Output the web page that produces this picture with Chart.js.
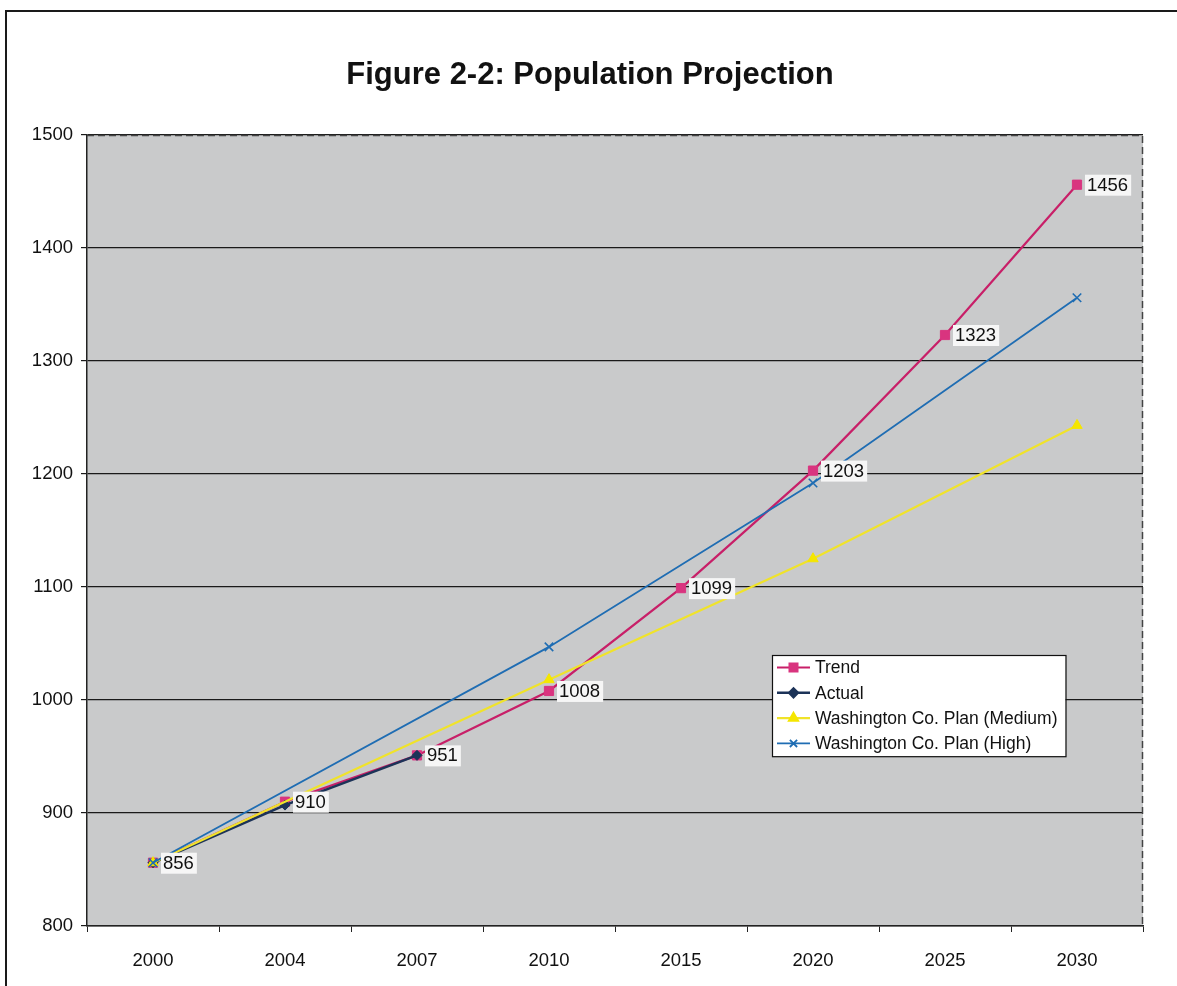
<!DOCTYPE html>
<html>
<head>
<meta charset="utf-8">
<title>Population Projection</title>
<script src="https://cdn.jsdelivr.net/npm/chart.js@4.4.0/dist/chart.umd.min.js"></script>
<style>
  html, body { margin: 0; padding: 0; background: #fff; }
  #wrap { width: 1177px; height: 986px; }
</style>
</head>
<body>
<div id="wrap"><canvas id="popChart" width="1177" height="986"></canvas></div>
<script>
// Years on the x-axis (evenly spaced categories)
const years = ["2000", "2004", "2007", "2010", "2015", "2020", "2025", "2030"];

// Population series, null where a series has no value for that year
const trend = [856, 910, 951, 1008, 1099, 1203, 1323, 1456];
const actual = [856, 907, 951, null, null, null, null, null];
const planMedium = [856, null, null, 1018, null, 1125, null, 1243];
const planHigh = [856, null, null, 1047, null, 1192, null, 1356];

const seriesNames = ["Trend", "Actual", "Washington Co. Plan (Medium)", "Washington Co. Plan (High)"];
const chartTitle = "Figure 2-2: Population Projection";

const FONT = "'Liberation Sans', Arial, Helvetica, sans-serif";

// Page frame, title and grey plot background, drawn under everything
const backdrop = {
    id: "backdrop",
    beforeDraw(chart) {
        const ctx = chart.ctx;
        const ca = chart.chartArea;
        ctx.save();
        ctx.fillStyle = "#ffffff";
        ctx.fillRect(0, 0, chart.width, chart.height);
        ctx.strokeStyle = "#1a1a1a";
        ctx.lineWidth = 2;
        ctx.beginPath();
        ctx.moveTo(6, chart.height);
        ctx.lineTo(6, 11);
        ctx.lineTo(chart.width, 11);
        ctx.stroke();
        // title sits centred over the page frame, not the plot
        ctx.fillStyle = "#111";
        ctx.font = "bold 31px " + FONT;
        ctx.textAlign = "center";
        ctx.textBaseline = "middle";
        ctx.fillText(chartTitle, 590, 75);
        ctx.fillStyle = "#c9cacb";
        ctx.fillRect(ca.left, ca.top, ca.right - ca.left, ca.bottom - ca.top);
        ctx.restore();
    },
    afterDraw(chart) {
        // dashed top and right edges of the plot area
        const ctx = chart.ctx;
        const ca = chart.chartArea;
        ctx.save();
        ctx.strokeStyle = "#444";
        ctx.lineWidth = 1.5;
        ctx.setLineDash([7, 4]);
        ctx.beginPath();
        ctx.moveTo(ca.left, ca.top + 0.5);
        ctx.lineTo(ca.right - 0.5, ca.top + 0.5);
        ctx.lineTo(ca.right - 0.5, ca.bottom);
        ctx.stroke();
        ctx.restore();
    }
};

// Value labels next to each Trend point
const trendLabels = {
    id: "trendLabels",
    afterDatasetsDraw(chart) {
        const ctx = chart.ctx;
        const meta = chart.getDatasetMeta(0);
        ctx.save();
        ctx.font = "18.5px " + FONT;
        ctx.textBaseline = "middle";
        meta.data.forEach((pt, i) => {
            const v = chart.data.datasets[0].data[i];
            if (v == null) return;
            const txt = String(v);
            const w = ctx.measureText(txt).width;
            ctx.fillStyle = "#f6f6f6";
            ctx.fillRect(pt.x + 8, pt.y - 10, w + 5, 21);
            ctx.fillStyle = "#111";
            ctx.fillText(txt, pt.x + 10, pt.y + 1);
        });
        ctx.restore();
    }
};

// Boxed legend inside the plot, line sample with its marker
const boxLegend = {
    id: "boxLegend",
    afterDraw(chart) {
        const ctx = chart.ctx;
        const ca = chart.chartArea;
        const left = ca.left + 685;
        const top = ca.top + 520;
        const rowH = 25.3;
        ctx.save();
        ctx.font = "17.5px " + FONT;
        let maxW = 0;
        chart.data.datasets.forEach(ds => { maxW = Math.max(maxW, ctx.measureText(ds.label).width); });
        const boxW = 43 + maxW + 8;
        const boxH = rowH * chart.data.datasets.length;
        ctx.fillStyle = "#ffffff";
        ctx.fillRect(left, top, boxW, boxH);
        ctx.strokeStyle = "#111";
        ctx.lineWidth = 1.2;
        ctx.strokeRect(left + 0.5, top + 0.5, boxW, boxH);
        chart.data.datasets.forEach((ds, i) => {
            const cy = top + 12.5 + i * rowH;
            ctx.strokeStyle = ds.borderColor;
            ctx.lineWidth = ds.borderWidth;
            ctx.beginPath();
            ctx.moveTo(left + 5, cy);
            ctx.lineTo(left + 38, cy);
            ctx.stroke();
            ctx.fillStyle = ds.pointBackgroundColor;
            ctx.strokeStyle = ds.pointBorderColor;
            Chart.helpers.drawPoint(ctx, {
                pointStyle: ds.pointStyle,
                radius: ds.pointRadius * 0.85,
                borderWidth: ds.pointBorderWidth,
                rotation: 0
            }, left + 21.5, cy);
            ctx.fillStyle = "#111";
            ctx.textBaseline = "middle";
            ctx.fillText(ds.label, left + 43, cy + 1);
        });
        ctx.restore();
    }
};

const ctx = document.getElementById("popChart").getContext("2d");
const popChart = new Chart(ctx, {
    type: "line",
    data: {
        labels: years,
        datasets: [
            {
                label: seriesNames[0],
                data: trend,
                borderColor: "#c81f68",
                borderWidth: 2.2,
                pointStyle: "rect",
                pointRadius: 6.5,
                pointBackgroundColor: "#d9347f",
                pointBorderColor: "#d9347f",
                pointBorderWidth: 1,
                order: 4
            },
            {
                label: seriesNames[1],
                data: actual,
                borderColor: "#1c3358",
                borderWidth: 2.6,
                pointStyle: "rectRot",
                pointRadius: 5,
                pointBackgroundColor: "#1c3358",
                pointBorderColor: "#1c3358",
                pointBorderWidth: 1,
                order: 3
            },
            {
                label: seriesNames[2],
                data: planMedium,
                borderColor: "#f0e32a",
                borderWidth: 2.2,
                pointStyle: "triangle",
                pointRadius: 6,
                pointBackgroundColor: "#f5e600",
                pointBorderColor: "#f5e600",
                pointBorderWidth: 1,
                spanGaps: true,
                order: 2
            },
            {
                label: seriesNames[3],
                data: planHigh,
                borderColor: "#1f6db3",
                borderWidth: 1.8,
                pointStyle: "crossRot",
                pointRadius: 6,
                pointBackgroundColor: "#1f6db3",
                pointBorderColor: "#1f6db3",
                pointBorderWidth: 1.6,
                spanGaps: true,
                order: 1
            }
        ]
    },
    options: {
        responsive: false,
        animation: false,
        layout: { padding: { left: 0, right: 34, top: 135, bottom: 0 } },
        elements: { line: { tension: 0 } },
        plugins: {
            legend: { display: false },
            tooltip: { enabled: false },
            title: { display: false }
        },
        scales: {
            x: {
                type: "category",
                offset: true,
                grid: {
                    offset: true,
                    drawOnChartArea: false,
                    drawTicks: true,
                    tickLength: 6,
                    color: "#222"
                },
                border: { display: true, color: "#222", width: 1.5 },
                ticks: {
                    color: "#111",
                    font: { family: FONT, size: 18.5 },
                    padding: 18,
                    maxRotation: 0
                },
                afterFit(scale) { scale.height = 60; }
            },
            y: {
                min: 800,
                max: 1500,
                ticks: {
                    stepSize: 100,
                    color: "#111",
                    font: { family: FONT, size: 18.5 },
                    padding: 8,
                    callback: value => String(value)
                },
                grid: {
                    color: "#1a1a1a",
                    lineWidth: 1.2,
                    drawTicks: true,
                    tickLength: 6
                },
                border: { display: true, color: "#222", width: 1.5 },
                afterFit(scale) { scale.width = 87; }
            }
        }
    },
    plugins: [backdrop, trendLabels, boxLegend]
});
</script>
</body>
</html>
